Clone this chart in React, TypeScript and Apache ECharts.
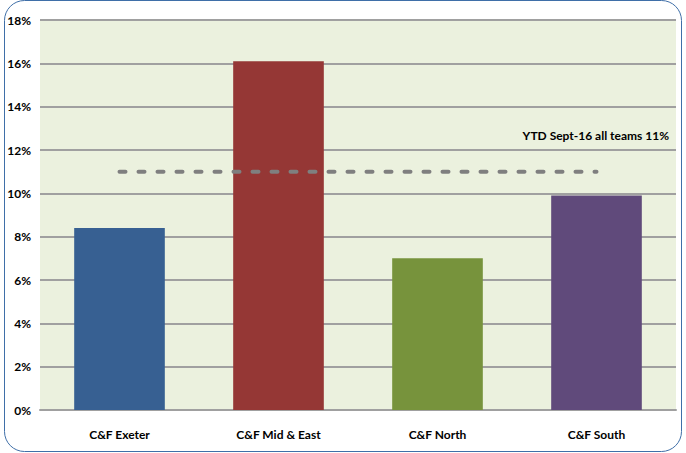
import React, { useEffect, useRef } from "react";
import * as echarts from "echarts";

const categories = ["C&F Exeter", "C&F Mid & East", "C&F North", "C&F South"];
const rates = [8.4, 16.1, 7.0, 9.9];
const barColors = ["#376092", "#953735", "#77933C", "#604A7B"];
const ytdAverage = [11, 11, 11, 11];
const ytdLabel = "YTD Sept-16 all teams 11%";

const FONT = "Lato, 'Liberation Sans', sans-serif";

export default function App() {
  const ref = useRef<HTMLDivElement>(null);
  useEffect(() => {
    if (!ref.current) return;
    const chart = echarts.init(ref.current, undefined, { renderer: "svg" });
    chart.setOption({
      animation: false,
      backgroundColor: "#ffffff",
      grid: {
        left: 40,
        right: 10,
        top: 20,
        bottom: 43,
        show: true,
        backgroundColor: "#EBF1DE",
        borderWidth: 0,
      },
      xAxis: {
        type: "category",
        data: categories,
        axisLine: { show: true, lineStyle: { color: "#A0A0A0", width: 2 } },
        axisTick: { show: false },
        axisLabel: {
          color: "#000",
          fontFamily: FONT,
          fontWeight: "bold",
          fontSize: 12,
          margin: 18,
        },
      },
      yAxis: {
        type: "value",
        min: 0,
        max: 18,
        interval: 2,
        axisLine: { show: false },
        axisTick: { show: false },
        axisLabel: {
          formatter: "{value}%",
          color: "#000",
          fontFamily: FONT,
          fontWeight: "bold",
          fontSize: 12,
          margin: 9,
        },
        splitLine: { lineStyle: { color: "#A0A0A0", width: 2 } },
      },
      series: [
        {
          type: "bar",
          data: rates.map((v, i) => ({ value: v, itemStyle: { color: barColors[i] } })),
          barWidth: "57%",
        },
        {
          type: "line",
          data: ytdAverage,
          symbol: "none",
          z: 5,
          lineStyle: { color: "#7F7F7F", width: 4, type: [6, 13], cap: "round" },
        },
      ],
      graphic: [
        {
          type: "text",
          right: 17,
          top: 129,
          style: {
            text: ytdLabel,
            font: `bold 12px ${FONT}`,
            fill: "#000",
          },
        },
        {
          type: "rect",
          shape: { x: 4.5, y: 0.5, width: 677, height: 451, r: 20 },
          style: { fill: "none", stroke: "#3F6FA8", lineWidth: 1 },
          silent: true,
        },
      ],
    });
    return () => chart.dispose();
  }, []);
  return <div ref={ref} style={{ width: 686, height: 453, position: "absolute", left: 0, top: 0 }} />;
}
